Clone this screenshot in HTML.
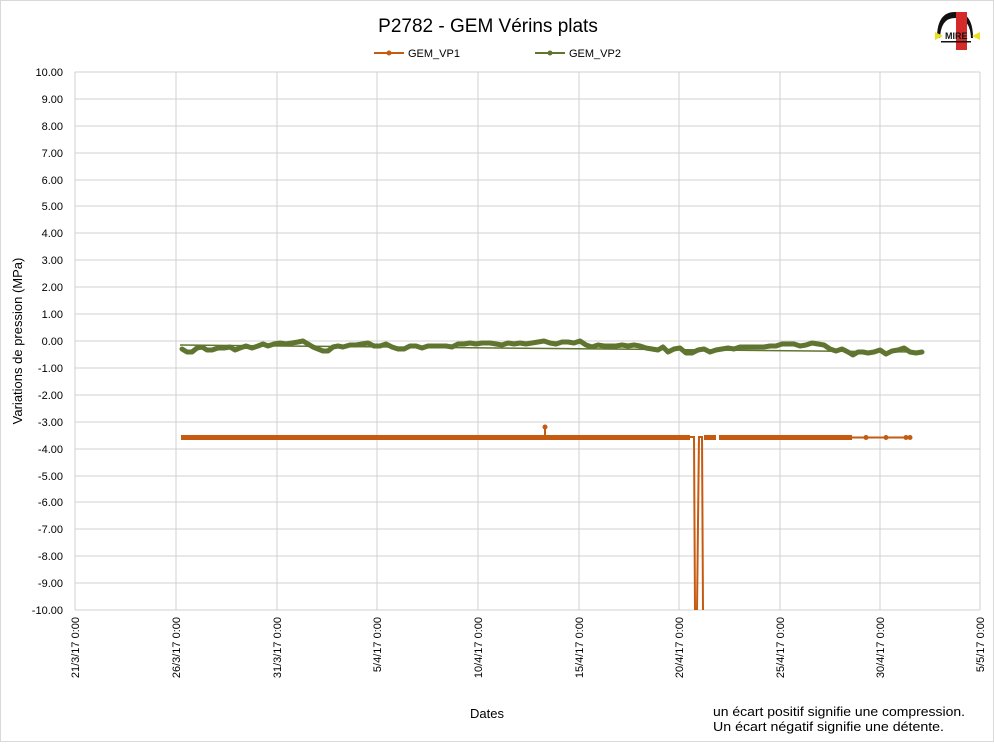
<!DOCTYPE html>
<html><head><meta charset="utf-8"><style>
body{margin:0;background:#fff;font-family:"Liberation Sans",sans-serif;}
</style></head><body>
<svg width="994" height="742" xmlns="http://www.w3.org/2000/svg" font-family="Liberation Sans, sans-serif">
<rect x="0.5" y="0.5" width="993" height="741" fill="#fff" stroke="#d9d9d9"/>
<text x="488" y="32" font-size="19" text-anchor="middle" fill="#000">P2782 - GEM Vérins plats</text>
<g transform="translate(935,10)">
<path d="M2,28 Q2,2 20,2 Q38,2 38,28 Z" fill="#111"/>
<path d="M5,30 Q5,8 20,8 Q36,8 36,30 Z" fill="#fff"/>
<rect x="21" y="2" width="11" height="38" fill="#d42a2a"/>
<polygon points="0,22 8,26 0,30" fill="#e8e020"/>
<polygon points="45,22 37,26 45,30" fill="#e8e020"/>
<text x="10" y="29" font-size="9" font-weight="bold" fill="#111">MIRE</text>
<rect x="6" y="31" width="30" height="1.5" fill="#111"/>
</g>
<line x1="374" y1="53" x2="404" y2="53" stroke="#c55a11" stroke-width="2"/><circle cx="389" cy="53" r="2.5" fill="#c55a11"/>
<text x="408" y="57" font-size="11">GEM_VP1</text>
<line x1="535" y1="53" x2="565" y2="53" stroke="#5f7530" stroke-width="2"/><circle cx="550" cy="53" r="2.5" fill="#5f7530"/>
<text x="569" y="57" font-size="11">GEM_VP2</text>
<g stroke="#d0d0d0" stroke-width="1">
<line x1="75" y1="72" x2="980" y2="72"/><line x1="75" y1="99" x2="980" y2="99"/><line x1="75" y1="126" x2="980" y2="126"/><line x1="75" y1="153" x2="980" y2="153"/><line x1="75" y1="180" x2="980" y2="180"/><line x1="75" y1="206" x2="980" y2="206"/><line x1="75" y1="233" x2="980" y2="233"/><line x1="75" y1="260" x2="980" y2="260"/><line x1="75" y1="287" x2="980" y2="287"/><line x1="75" y1="314" x2="980" y2="314"/><line x1="75" y1="341" x2="980" y2="341"/><line x1="75" y1="368" x2="980" y2="368"/><line x1="75" y1="395" x2="980" y2="395"/><line x1="75" y1="422" x2="980" y2="422"/><line x1="75" y1="449" x2="980" y2="449"/><line x1="75" y1="476" x2="980" y2="476"/><line x1="75" y1="502" x2="980" y2="502"/><line x1="75" y1="529" x2="980" y2="529"/><line x1="75" y1="556" x2="980" y2="556"/><line x1="75" y1="583" x2="980" y2="583"/><line x1="75" y1="610" x2="980" y2="610"/>
<line x1="75" y1="72" x2="75" y2="610"/><line x1="176" y1="72" x2="176" y2="610"/><line x1="277" y1="72" x2="277" y2="610"/><line x1="377" y1="72" x2="377" y2="610"/><line x1="478" y1="72" x2="478" y2="610"/><line x1="579" y1="72" x2="579" y2="610"/><line x1="679" y1="72" x2="679" y2="610"/><line x1="780" y1="72" x2="780" y2="610"/><line x1="880" y1="72" x2="880" y2="610"/><line x1="980" y1="72" x2="980" y2="610"/>
</g>
<g font-size="11" text-anchor="end" fill="#000">
<text x="63" y="76">10.00</text><text x="63" y="103">9.00</text><text x="63" y="130">8.00</text><text x="63" y="157">7.00</text><text x="63" y="184">6.00</text><text x="63" y="210">5.00</text><text x="63" y="237">4.00</text><text x="63" y="264">3.00</text><text x="63" y="291">2.00</text><text x="63" y="318">1.00</text><text x="63" y="345">0.00</text><text x="63" y="372">-1.00</text><text x="63" y="399">-2.00</text><text x="63" y="426">-3.00</text><text x="63" y="453">-4.00</text><text x="63" y="480">-5.00</text><text x="63" y="506">-6.00</text><text x="63" y="533">-7.00</text><text x="63" y="560">-8.00</text><text x="63" y="587">-9.00</text><text x="63" y="614">-10.00</text>
</g>
<text transform="translate(22,341) rotate(-90)" font-size="13" text-anchor="middle">Variations de pression (MPa)</text>
<g font-size="11" text-anchor="end">
<text transform="translate(79,617) rotate(-90)">21/3/17 0:00</text>
<text transform="translate(180,617) rotate(-90)">26/3/17 0:00</text>
<text transform="translate(281,617) rotate(-90)">31/3/17 0:00</text>
<text transform="translate(381,617) rotate(-90)">5/4/17 0:00</text>
<text transform="translate(482,617) rotate(-90)">10/4/17 0:00</text>
<text transform="translate(583,617) rotate(-90)">15/4/17 0:00</text>
<text transform="translate(683,617) rotate(-90)">20/4/17 0:00</text>
<text transform="translate(784,617) rotate(-90)">25/4/17 0:00</text>
<text transform="translate(884,617) rotate(-90)">30/4/17 0:00</text>
<text transform="translate(984,617) rotate(-90)">5/5/17 0:00</text>
</g>
<text x="487" y="718" font-size="13" text-anchor="middle">Dates</text>
<text x="713" y="716" font-size="12.5" textLength="252" lengthAdjust="spacingAndGlyphs">un écart positif signifie une compression.</text>
<text x="713" y="731" font-size="12.5" textLength="231" lengthAdjust="spacingAndGlyphs">Un écart négatif  signifie une détente.</text>
<line x1="180" y1="345" x2="922" y2="352" stroke="#5f7530" stroke-width="1.5"/>
<polyline fill="none" stroke="#5f7530" stroke-width="5" stroke-linejoin="round" stroke-linecap="round" points="182,349 187,352 192,352 197,348 202,347 207,350 212,350 218,348 224,348 230,347 235,350 240,348 246,346 252,348 258,346 263,344 268,346 274,344 280,343 286,344 292,343 298,342 303,341 308,344 313,347 318,349 323,351 328,351 333,347 338,346 343,347 350,345 356,345 362,344 368,343 374,346 380,346 386,344 392,347 398,349 404,349 410,346 416,346 422,348 428,346 434,346 440,346 446,346 452,347 458,344 464,344 470,343 476,344 482,343 490,343 496,344 502,345 508,343 514,344 520,343 526,344 532,343 538,342 544,341 550,343 556,344 562,342 568,342 574,343 580,341 586,345 592,347 598,345 604,346 610,346 616,346 622,345 628,346 634,345 640,346 646,348 652,349 658,350 663,347 668,352 674,349 680,348 686,353 692,353 698,350 704,349 710,352 716,350 722,349 728,348 734,349 740,347 746,347 752,347 758,347 764,347 770,346 776,346 782,344 788,344 794,344 800,346 806,345 812,343 818,344 824,345 830,349 836,351 842,349 848,352 853,355 858,352 863,352 868,353 874,352 880,350 886,354 892,351 898,350 904,348 910,352 916,353 922,352"/>
<g stroke="#c55a11" fill="none">
<line x1="181" y1="437.5" x2="690" y2="437.5" stroke-width="5"/>
<line x1="704" y1="437.5" x2="716" y2="437.5" stroke-width="5"/>
<line x1="719" y1="437.5" x2="852" y2="437.5" stroke-width="5"/>
<line x1="852" y1="437.5" x2="912" y2="437.5" stroke-width="2"/>
<polyline points="690,437 694,437 695,610" stroke-width="2"/>
<polyline points="697,610 699,437 702,437 703,610" stroke-width="2"/>
<line x1="545" y1="437" x2="545" y2="427" stroke-width="2"/>
</g>
<circle cx="545" cy="427" r="2.5" fill="#c55a11"/>
<circle cx="866" cy="437.5" r="2.5" fill="#c55a11"/><circle cx="886" cy="437.5" r="2.5" fill="#c55a11"/><circle cx="906" cy="437.5" r="2.5" fill="#c55a11"/><circle cx="910" cy="437.5" r="2.5" fill="#c55a11"/>
</svg>
</body></html>
